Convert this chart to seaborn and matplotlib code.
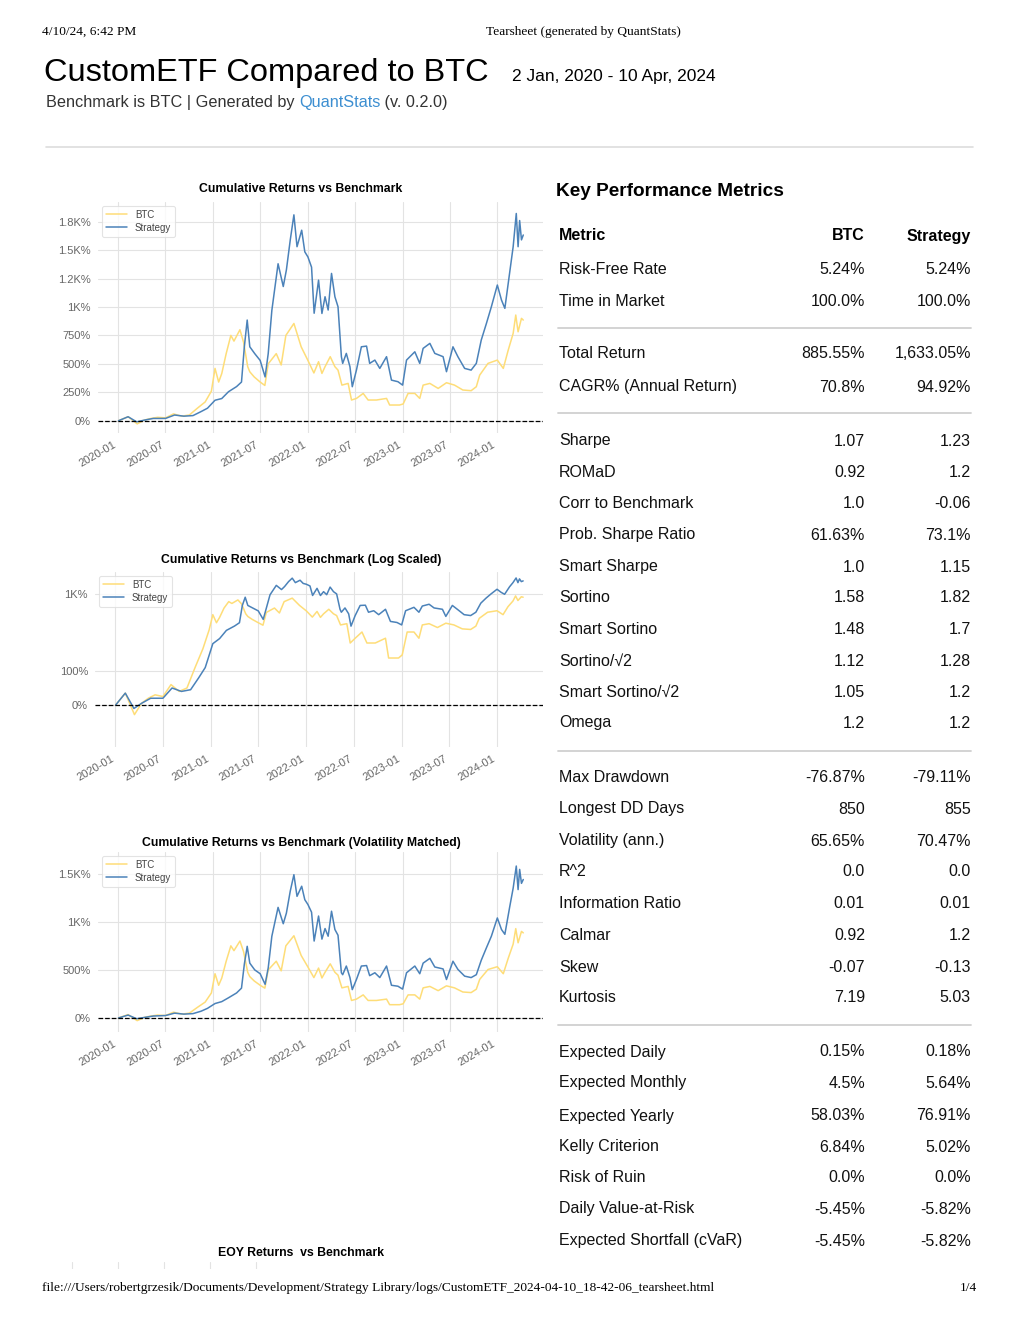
import matplotlib
matplotlib.use("Agg")
import matplotlib.pyplot as plt
from matplotlib.lines import Line2D
import seaborn as sns
import pandas as pd

# ---- data (cumulative returns in %) ----
btc_dates = ["2020-01-02", "2020-02-08", "2020-03-14", "2020-04-10", "2020-05-06", "2020-06-01",
             "2020-07-01", "2020-08-01", "2020-09-01", "2020-10-01", "2020-11-01", "2020-12-01",
             "2020-12-25", "2021-01-08", "2021-01-22", "2021-02-03", "2021-02-20", "2021-03-10",
             "2021-03-22", "2021-04-14", "2021-04-28", "2021-05-14", "2021-05-22", "2021-06-08",
             "2021-07-01", "2021-07-19", "2021-08-01", "2021-09-01", "2021-09-20", "2021-10-08",
             "2021-11-08", "2021-12-06", "2022-01-01", "2022-01-24", "2022-02-11", "2022-02-24",
             "2022-03-08", "2022-03-28", "2022-04-15", "2022-04-27", "2022-05-12", "2022-06-05",
             "2022-06-18", "2022-07-07", "2022-08-02", "2022-08-21", "2022-09-22", "2022-10-31",
             "2022-11-12", "2022-12-20", "2023-01-03", "2023-01-22", "2023-02-17", "2023-03-08",
             "2023-03-21", "2023-04-16", "2023-05-18", "2023-06-19", "2023-07-20", "2023-08-21",
             "2023-09-22", "2023-10-12", "2023-10-25", "2023-11-26", "2024-01-01", "2024-01-24",
             "2024-02-12", "2024-03-02", "2024-03-12", "2024-03-21", "2024-04-03", "2024-04-10"]
btc_cum = [0, 35, -28, 5, 20, 30,
           25, 60, 40, 50, 110, 165,
           260, 460, 340, 415, 590, 750,
           700, 800, 690, 475, 430, 385,
           340, 310, 500, 590, 490, 750,
           855, 650, 530, 420, 519, 416,
           475, 563, 475, 445, 313, 328,
           182, 196, 240, 182, 182, 196,
           138, 138, 147, 240, 240, 196,
           313, 328, 284, 334, 313, 270,
           264, 299, 401, 504, 533, 460,
           621, 768, 929, 782, 900, 885]

strat_dates = ["2020-01-02", "2020-02-08", "2020-03-12", "2020-04-10", "2020-05-15", "2020-07-01",
               "2020-08-05", "2020-09-10", "2020-10-15", "2020-11-15", "2020-12-10", "2021-01-08",
               "2021-02-03", "2021-03-01", "2021-04-01", "2021-04-20", "2021-05-01", "2021-05-12",
               "2021-05-22", "2021-06-10", "2021-07-01", "2021-07-20", "2021-08-01", "2021-08-15",
               "2021-09-08", "2021-09-28", "2021-10-10", "2021-10-25", "2021-11-08", "2021-11-20",
               "2021-12-08", "2021-12-20", "2022-01-01", "2022-01-15", "2022-01-25", "2022-02-11",
               "2022-02-24", "2022-03-08", "2022-03-20", "2022-04-02", "2022-04-15", "2022-04-27",
               "2022-05-10", "2022-05-15", "2022-05-29", "2022-06-12", "2022-06-21", "2022-07-07",
               "2022-07-26", "2022-08-15", "2022-08-27", "2022-09-16", "2022-10-05", "2022-10-31",
               "2022-11-19", "2022-12-14", "2023-01-01", "2023-01-16", "2023-02-17", "2023-03-08",
               "2023-03-21", "2023-04-16", "2023-05-05", "2023-06-06", "2023-06-19", "2023-07-14",
               "2023-08-02", "2023-08-28", "2023-09-22", "2023-10-12", "2023-10-31", "2023-11-20",
               "2023-12-09", "2024-01-01", "2024-01-17", "2024-01-30", "2024-02-18", "2024-03-02",
               "2024-03-14", "2024-03-21", "2024-03-27", "2024-04-03", "2024-04-10"]
strat_cum = [0, 35, -10, 5, 20, 20,
             50, 40, 45, 80, 110, 180,
             195, 255, 300, 340, 650, 885,
             650, 590, 530, 385, 590, 970,
             1380, 1180, 1325, 1590, 1810, 1530,
             1675, 1485, 1440, 1350, 945, 1236,
             943, 1090, 973, 1295, 1090, 1002,
             563, 504, 592, 475, 299, 445,
             650, 656, 504, 533, 460, 563,
             357, 343, 313, 533, 606, 504,
             636, 680, 592, 563, 431, 650,
             563, 460, 445, 504, 709, 856,
             1002, 1193, 1061, 988, 1310, 1530,
             1822, 1530, 1760, 1590, 1633]
# volatility matched strategy (third chart), same dates as strat_dates
strat_vm_cum = [0, 30, -8, 5, 20, 25,
                50, 40, 45, 70, 100, 150,
                170, 210, 260, 310, 560, 745,
                570, 500, 460, 350, 520, 850,
                1150, 980, 1090, 1320, 1490, 1265,
                1370, 1230, 1180, 1100, 800, 1060,
                820, 930, 850, 1110, 920, 860,
                470, 450, 540, 420, 295, 400,
                540, 545, 440, 470, 420, 540,
                340, 330, 300, 470, 540, 460,
                570, 620, 530, 510, 400, 590,
                505, 435, 420, 450, 600, 730,
                850, 1040, 920, 870, 1160, 1350,
                1580, 1335, 1545, 1400, 1440]

tick_dates = ["2020-01-01", "2020-07-01", "2021-01-01", "2021-07-01", "2022-01-01",
              "2022-07-01", "2023-01-01", "2023-07-01", "2024-01-01"]
tick_labels = ["2020-01", "2020-07", "2021-01", "2021-07", "2022-01",
               "2022-07", "2023-01", "2023-07", "2024-01"]

lin_ticks = [0, 250, 500, 750, 1000, 1250, 1500, 1750]
lin_labels = ["0%", "250%", "500%", "750%", "1K%", "1.2K%", "1.5K%", "1.8K%"]
log_ticks = [0, 100, 1000]
log_labels = ["0%", "100%", "1K%"]
vm_ticks = [0, 500, 1000, 1500]
vm_labels = ["0%", "500%", "1K%", "1.5K%"]

metric_groups = [
    [("Risk-Free Rate", "5.24%", "5.24%"),
     ("Time in Market", "100.0%", "100.0%")],
    [("Total Return", "885.55%", "1,633.05%"),
     ("CAGR% (Annual Return)", "70.8%", "94.92%")],
    [("Sharpe", "1.07", "1.23"),
     ("ROMaD", "0.92", "1.2"),
     ("Corr to Benchmark", "1.0", "-0.06"),
     ("Prob. Sharpe Ratio", "61.63%", "73.1%"),
     ("Smart Sharpe", "1.0", "1.15"),
     ("Sortino", "1.58", "1.82"),
     ("Smart Sortino", "1.48", "1.7"),
     ("Sortino/\u221a2", "1.12", "1.28"),
     ("Smart Sortino/\u221a2", "1.05", "1.2"),
     ("Omega", "1.2", "1.2")],
    [("Max Drawdown", "-76.87%", "-79.11%"),
     ("Longest DD Days", "850", "855"),
     ("Volatility (ann.)", "65.65%", "70.47%"),
     ("R^2", "0.0", "0.0"),
     ("Information Ratio", "0.01", "0.01"),
     ("Calmar", "0.92", "1.2"),
     ("Skew", "-0.07", "-0.13"),
     ("Kurtosis", "7.19", "5.03")],
    [("Expected Daily", "0.15%", "0.18%"),
     ("Expected Monthly", "4.5%", "5.64%"),
     ("Expected Yearly", "58.03%", "76.91%"),
     ("Kelly Criterion", "6.84%", "5.02%"),
     ("Risk of Ruin", "0.0%", "0.0%"),
     ("Daily Value-at-Risk", "-5.45%", "-5.82%"),
     ("Expected Shortfall (cVaR)", "-5.45%", "-5.82%")],
]
eoy_years = ["2020", "2021", "2022", "2023", "2024"]

BTC_COLOR = "#fedd78"
STRAT_COLOR = "#4b82b9"
W, H = 1020, 1320


def fx(x):
    return x / W


def fy(y):
    return 1 - y / H


def box(left, top, right, bottom):
    return [fx(left), fy(bottom), (right - left) / W, (bottom - top) / H]


sns.set_style("whitegrid")
plt.rcParams["font.family"] = ["Liberation Sans", "DejaVu Sans"]
plt.rcParams["text.color"] = "#000000"

fig = plt.figure(figsize=(W / 100, H / 100), dpi=100)

btc = pd.DataFrame({"date": pd.to_datetime(btc_dates), "value": [v / 100 for v in btc_cum]})
strat = pd.DataFrame({"date": pd.to_datetime(strat_dates), "value": [v / 100 for v in strat_cum]})
strat_vm = pd.DataFrame({"date": pd.to_datetime(strat_dates), "value": [v / 100 for v in strat_vm_cum]})


def returns_chart(rect, title, title_y, strat_df, yticks, ylabels, ylim, log=False):
    ax = fig.add_axes(rect)
    sns.lineplot(data=btc, x="date", y="value", ax=ax, color=BTC_COLOR, lw=1.1, label="BTC")
    sns.lineplot(data=strat_df, x="date", y="value", ax=ax, color=STRAT_COLOR, lw=1.1, label="Strategy")
    ax.axhline(0, ls="--", lw=0.9, color="#000000", zorder=2)
    if log:
        ax.set_yscale("symlog", linthresh=2)
    ax.set_ylim(*ylim)
    ax.set_yticks([t / 100 for t in yticks])
    ax.set_yticklabels(ylabels)
    ax.yaxis.set_minor_locator(matplotlib.ticker.NullLocator())
    ax.set_xlim(pd.Timestamp("2019-10-15"), pd.Timestamp("2024-06-25"))
    ax.set_xticks(pd.to_datetime(tick_dates))
    ax.set_xticklabels(tick_labels, rotation=30, ha="right")
    ax.tick_params(axis="both", length=0, labelsize=8, labelcolor="#666666", pad=5)
    ax.grid(True, color="#e3e3e3", lw=0.8)
    for s in ax.spines.values():
        s.set_visible(False)
    ax.set_xlabel("")
    ax.set_ylabel("")
    leg = ax.legend(loc="upper left", fontsize=7, frameon=True, borderaxespad=0.4,
                    handlelength=2.2, borderpad=0.4, labelspacing=0.3)
    leg.get_frame().set_edgecolor("#dddddd")
    leg.get_frame().set_linewidth(0.8)
    for t in leg.get_texts():
        t.set_color("#444444")
    fig.text(fx(301), fy(title_y), title, ha="center", va="center", fontsize=8.8, fontweight="bold")
    return ax


returns_chart(box(98, 202, 543, 433), "Cumulative Returns vs Benchmark", 189,
              strat, lin_ticks, lin_labels, (-1.08, 19.23))
returns_chart(box(95, 572, 543, 747), "Cumulative Returns vs Benchmark (Log Scaled)", 560,
              strat, log_ticks, log_labels, (-1.23, 22.8), log=True)
returns_chart(box(98, 852, 543, 1032), "Cumulative Returns vs Benchmark (Volatility Matched)", 843,
              strat_vm, vm_ticks, vm_labels, (-1.46, 17.26))

# top of the EOY chart that gets cut by the page break
ax_eoy = fig.add_axes(box(49, 1262, 279, 1269))
ax_eoy.set_xlim(-0.5, len(eoy_years) - 0.5)
ax_eoy.set_xticks(range(len(eoy_years)))
ax_eoy.set_xticklabels([])
ax_eoy.set_yticks([])
ax_eoy.tick_params(length=0)
ax_eoy.grid(True, axis="x", color="#e3e3e3", lw=0.8)
for s in ax_eoy.spines.values():
    s.set_visible(False)
fig.text(fx(301), fy(1253), "EOY Returns  vs Benchmark", ha="center", va="center",
         fontsize=8.8, fontweight="bold")

# ---- page header / footer ----
serif = ["Liberation Serif", "DejaVu Serif"]
fig.text(fx(42), fy(32), "4/10/24, 6:42 PM", ha="left", va="center", fontsize=9.6, family=serif)
fig.text(fx(583), fy(32), "Tearsheet (generated by QuantStats)", ha="center", va="center",
         fontsize=9.6, family=serif)
fig.text(fx(44), fy(81), "CustomETF Compared to BTC", ha="left", va="baseline", fontsize=23.4)
fig.text(fx(512), fy(81), "2 Jan, 2020 - 10 Apr, 2024", ha="left", va="baseline", fontsize=12.5)
sub = fig.text(fx(46), fy(102), "Benchmark is BTC | Generated by ", ha="left", va="center",
               fontsize=11.7, color="#333333")
fig.canvas.draw()
bb = sub.get_window_extent()
qs = fig.text(bb.x1 / W, fy(102), "QuantStats", ha="left", va="center", fontsize=11.7, color="#3d8fd1")
fig.canvas.draw()
bb = qs.get_window_extent()
fig.text(bb.x1 / W, fy(102), " (v. 0.2.0)", ha="left", va="center", fontsize=11.7, color="#333333")
fig.add_artist(Line2D([fx(46), fx(973)], [fy(147), fy(147)], color="#dddddd", lw=1.2))

fig.text(fx(42), fy(1288),
         "file:///Users/robertgrzesik/Documents/Development/Strategy Library/logs/"
         "CustomETF_2024-04-10_18-42-06_tearsheet.html",
         ha="left", va="center", fontsize=9.6, family=serif)
fig.text(fx(977), fy(1288), "1/4", ha="right", va="center", fontsize=9.6, family=serif)

# ---- metrics table ----
fig.text(fx(556), fy(192), "Key Performance Metrics", ha="left", va="center",
         fontsize=13.7, fontweight="bold")
LBL_X, BTC_X, STR_X = 559, 865, 971
fig.text(fx(LBL_X), fy(236), "Metric", ha="left", va="center", fontsize=11.5, fontweight="bold")
fig.text(fx(BTC_X), fy(236), "BTC", ha="right", va="center", fontsize=11.5, fontweight="bold")
fig.text(fx(STR_X), fy(236), "Strategy", ha="right", va="center", fontsize=11.5, fontweight="bold")

row_y = [[269, 301], [354, 387],
         [441, 472, 503, 535, 567, 598, 629, 661, 692, 723],
         [778, 809, 841, 872, 903, 936, 967, 998],
         [1052, 1083, 1116, 1147, 1178, 1209, 1241]]
sep_y = [328, 413, 751, 1025]
for gi, group in enumerate(metric_groups):
    for (name, b, s), y in zip(group, row_y[gi]):
        fig.text(fx(LBL_X), fy(y), name, ha="left", va="center", fontsize=11.5, color="#111111")
        fig.text(fx(BTC_X), fy(y), b, ha="right", va="center", fontsize=11.5, color="#111111")
        fig.text(fx(STR_X), fy(y), s, ha="right", va="center", fontsize=11.5, color="#111111")
    if gi < len(sep_y):
        fig.add_artist(Line2D([fx(558), fx(971)], [fy(sep_y[gi]), fy(sep_y[gi])],
                              color="#d0d0d0", lw=1.3))

fig.savefig("out.png", dpi=100)
